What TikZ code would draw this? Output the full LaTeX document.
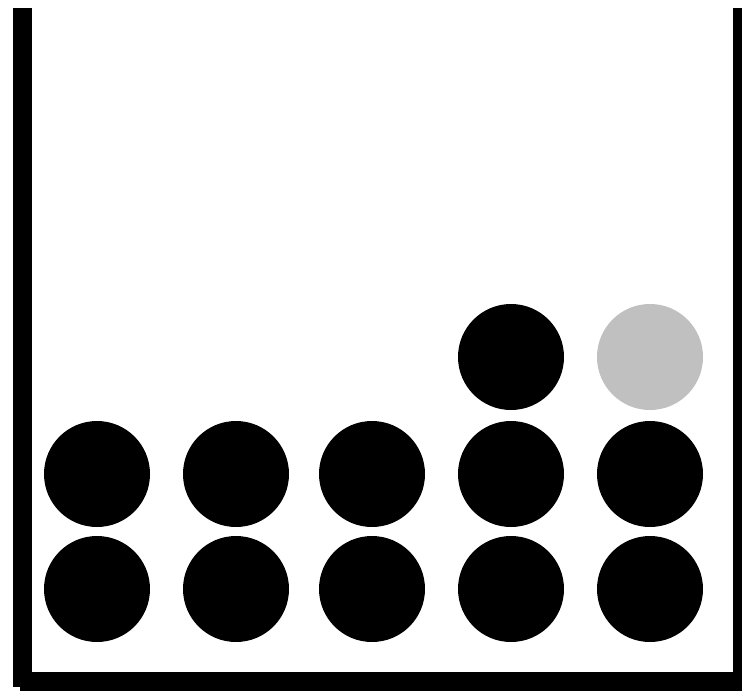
\documentclass[tikz,border=0pt]{standalone}
\definecolor{ballgray}{HTML}{C0C0C0}
\begin{document}
\begin{tikzpicture}[x=1pt,y=-1pt,
  ball/.style={circle,fill=black,minimum size=106pt,inner sep=0pt,draw=none},
  grayball/.style={ball,fill=ballgray},
  wall/.style={fill=black,draw=none}]
\useasboundingbox[fill=white] (0,0) rectangle (742,691);
% container walls
\fill[wall] (13,8) rectangle (32,687);
\fill[wall] (20,672) rectangle (742,691);
\fill[wall] (733,8) rectangle (742,691);
% balls
\foreach \x [count=\i] in {97,236,372,511,650}{
  \node[ball] (b3-\i) at (\x,589) {};
  \node[ball] (b2-\i) at (\x,474) {};
}
\node[ball] (b1-4) at (511,357) {};
\node[grayball] (b1-5) at (650,357) {};
\end{tikzpicture}
\end{document}
